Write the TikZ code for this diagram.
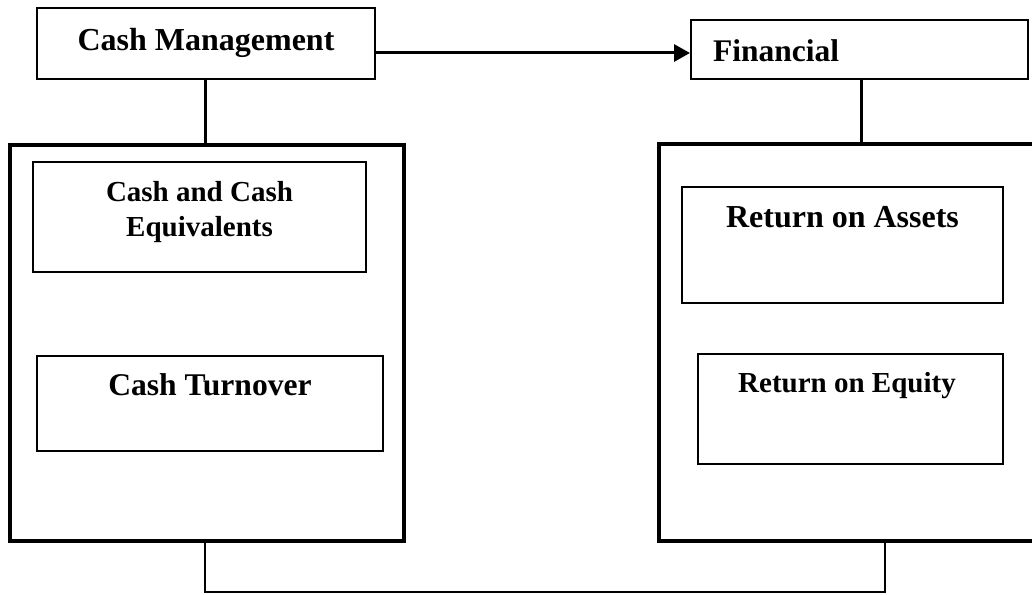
\documentclass[tikz,border=0pt]{standalone}
\usepackage{fontspec}
\setmainfont{Liberation Serif}
\usetikzlibrary{arrows.meta}
\begin{document}
\begin{tikzpicture}[x=1pt,y=-1pt,
  topbox/.style={draw, line width=2pt, inner sep=0pt, minimum width=#1},
  bigbox/.style={draw, line width=3.5pt, inner sep=0pt},
  inbox/.style={draw, line width=1.3pt, inner sep=0pt},
  lbl/.style={inner sep=0pt, anchor=base, font=\bfseries\fontsize{#1}{35}\selectfont},
  conn/.style={line width=3pt},
  thin/.style={line width=2pt}]
\useasboundingbox (0,0) rectangle (1032,594);
% boxes
\node[draw, line width=2pt, inner sep=0pt, minimum width=338pt, minimum height=71pt] (cm) at (206,43.5) {};
\node[draw, line width=2pt, inner sep=0pt, minimum width=337pt, minimum height=59pt] (fin) at (859.5,49.5) {};
\node[bigbox, minimum width=394pt, minimum height=396pt] (left) at (207,343) {};
\node[bigbox, minimum width=381pt, minimum height=397pt] (right) at (849.5,342.5) {};
\node[inbox, minimum width=333pt, minimum height=110pt] (cce) at (199.5,217) {};
\node[inbox, minimum width=346pt, minimum height=95pt] (ct) at (210,403.5) {};
\node[inbox, minimum width=321pt, minimum height=116pt] (roa) at (842.5,245) {};
\node[inbox, minimum width=305pt, minimum height=110pt] (roe) at (850.5,409) {};
% texts
\node[lbl=32] (tcm) at (206,50) {Cash Management};
\node[lbl=31.5, anchor=base west] (tfin) at (713,61) {Financial};
\node[lbl=29] (tcce1) at (199.5,201) {Cash and Cash};
\node[lbl=29] (tcce2) at (199.5,236) {Equivalents};
\node[lbl=32] (troa) at (842.5,227) {Return on Assets};
\node[lbl=31.6] (tct) at (210,395) {Cash Turnover};
\node[lbl=29] (troe) at (847,392) {Return on Equity};
% connectors
\draw[conn] ([xshift=-1pt]cm.south) -- ([xshift=-1pt]cm.south |- left.north);
\draw[conn, -{Triangle[length=16pt,width=17pt]}] ([yshift=-9.5pt]cm.east) -- ([yshift=-9.5pt]cm.east -| fin.west);
\draw[conn] ([xshift=1.5pt]fin.south) -- ([xshift=1.5pt]fin.south |- right.north);
\coordinate (bl) at (205,592);
\coordinate (br) at (885,592);
\draw[thin] (bl |- left.south) -- (bl) -- (br) -- (br |- right.south);
\end{tikzpicture}
\end{document}
